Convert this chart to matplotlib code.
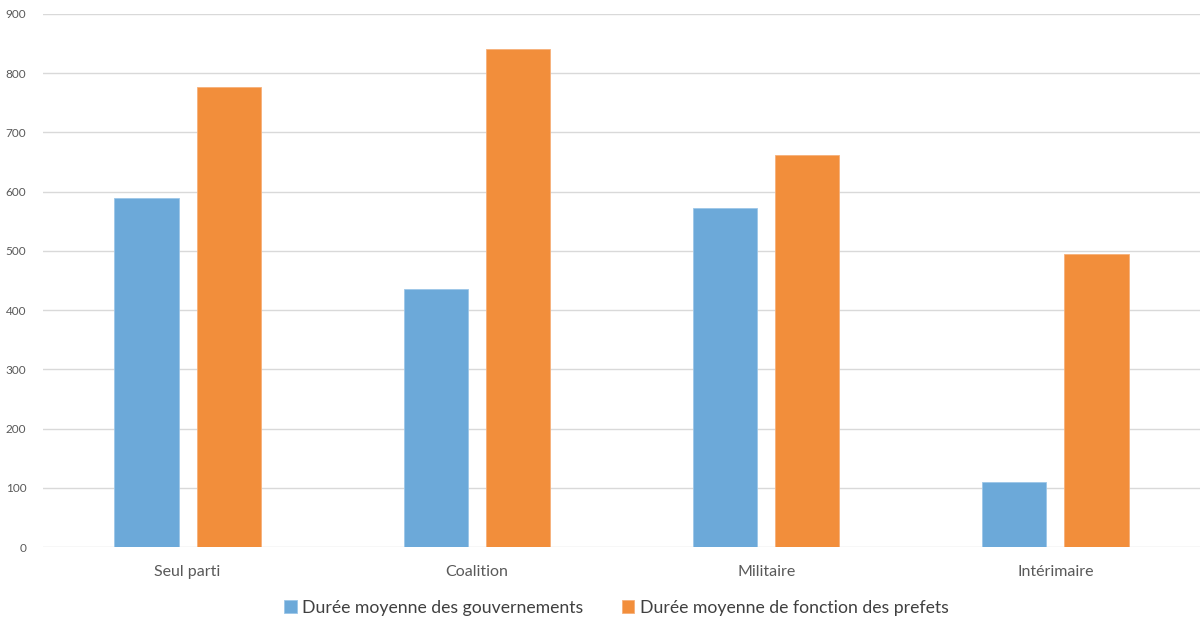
import matplotlib.pyplot as plt
import numpy as np

plt.rcParams['font.family'] = ['Lato', 'DejaVu Sans']

categories = ["Seul parti", "Coalition", "Militaire", "Intérimaire"]
gouvernements = [589, 436, 572, 110]
prefets = [777, 841, 662, 495]
yticks = [0, 100, 200, 300, 400, 500, 600, 700, 800, 900]

blue = "#6CA9D9"
orange = "#F28E3B"
grey = "#595959"

fig = plt.figure(figsize=(12.04, 6.19), dpi=100)
ax = fig.add_axes([0.0357, 0.1163, 0.961, 0.8611])

x = np.arange(len(categories))
w = 0.222
ax.bar(x - 0.142, gouvernements, w, color=blue, edgecolor="#9CC6E8", linewidth=0.6,
       label="Durée moyenne des gouvernements", zorder=3)
ax.bar(x + 0.142, prefets, w, color=orange, edgecolor="#F6B07A", linewidth=0.6,
       label="Durée moyenne de fonction des prefets", zorder=3)

ax.set_xlim(-0.5, 3.5)
ax.set_ylim(0, 900)
ax.set_yticks(yticks)
ax.set_xticks(x)
ax.set_xticklabels(categories, fontsize=11.5, color=grey)
ax.tick_params(axis='y', labelsize=8.5, colors=grey, length=0, pad=12)
ax.tick_params(axis='x', length=0, pad=13)
ax.grid(axis='y', color="#D9D9D9", linewidth=1, zorder=0)
for s in ax.spines.values():
    s.set_visible(False)

fig.legend(loc='lower center', bbox_to_anchor=(0.512, -0.02), ncol=2, frameon=False,
           fontsize=12.7, handlelength=0.7, handleheight=0.7, handletextpad=0.3,
           columnspacing=2.2, labelcolor="#404040")

fig.savefig("out.png", dpi=100)
